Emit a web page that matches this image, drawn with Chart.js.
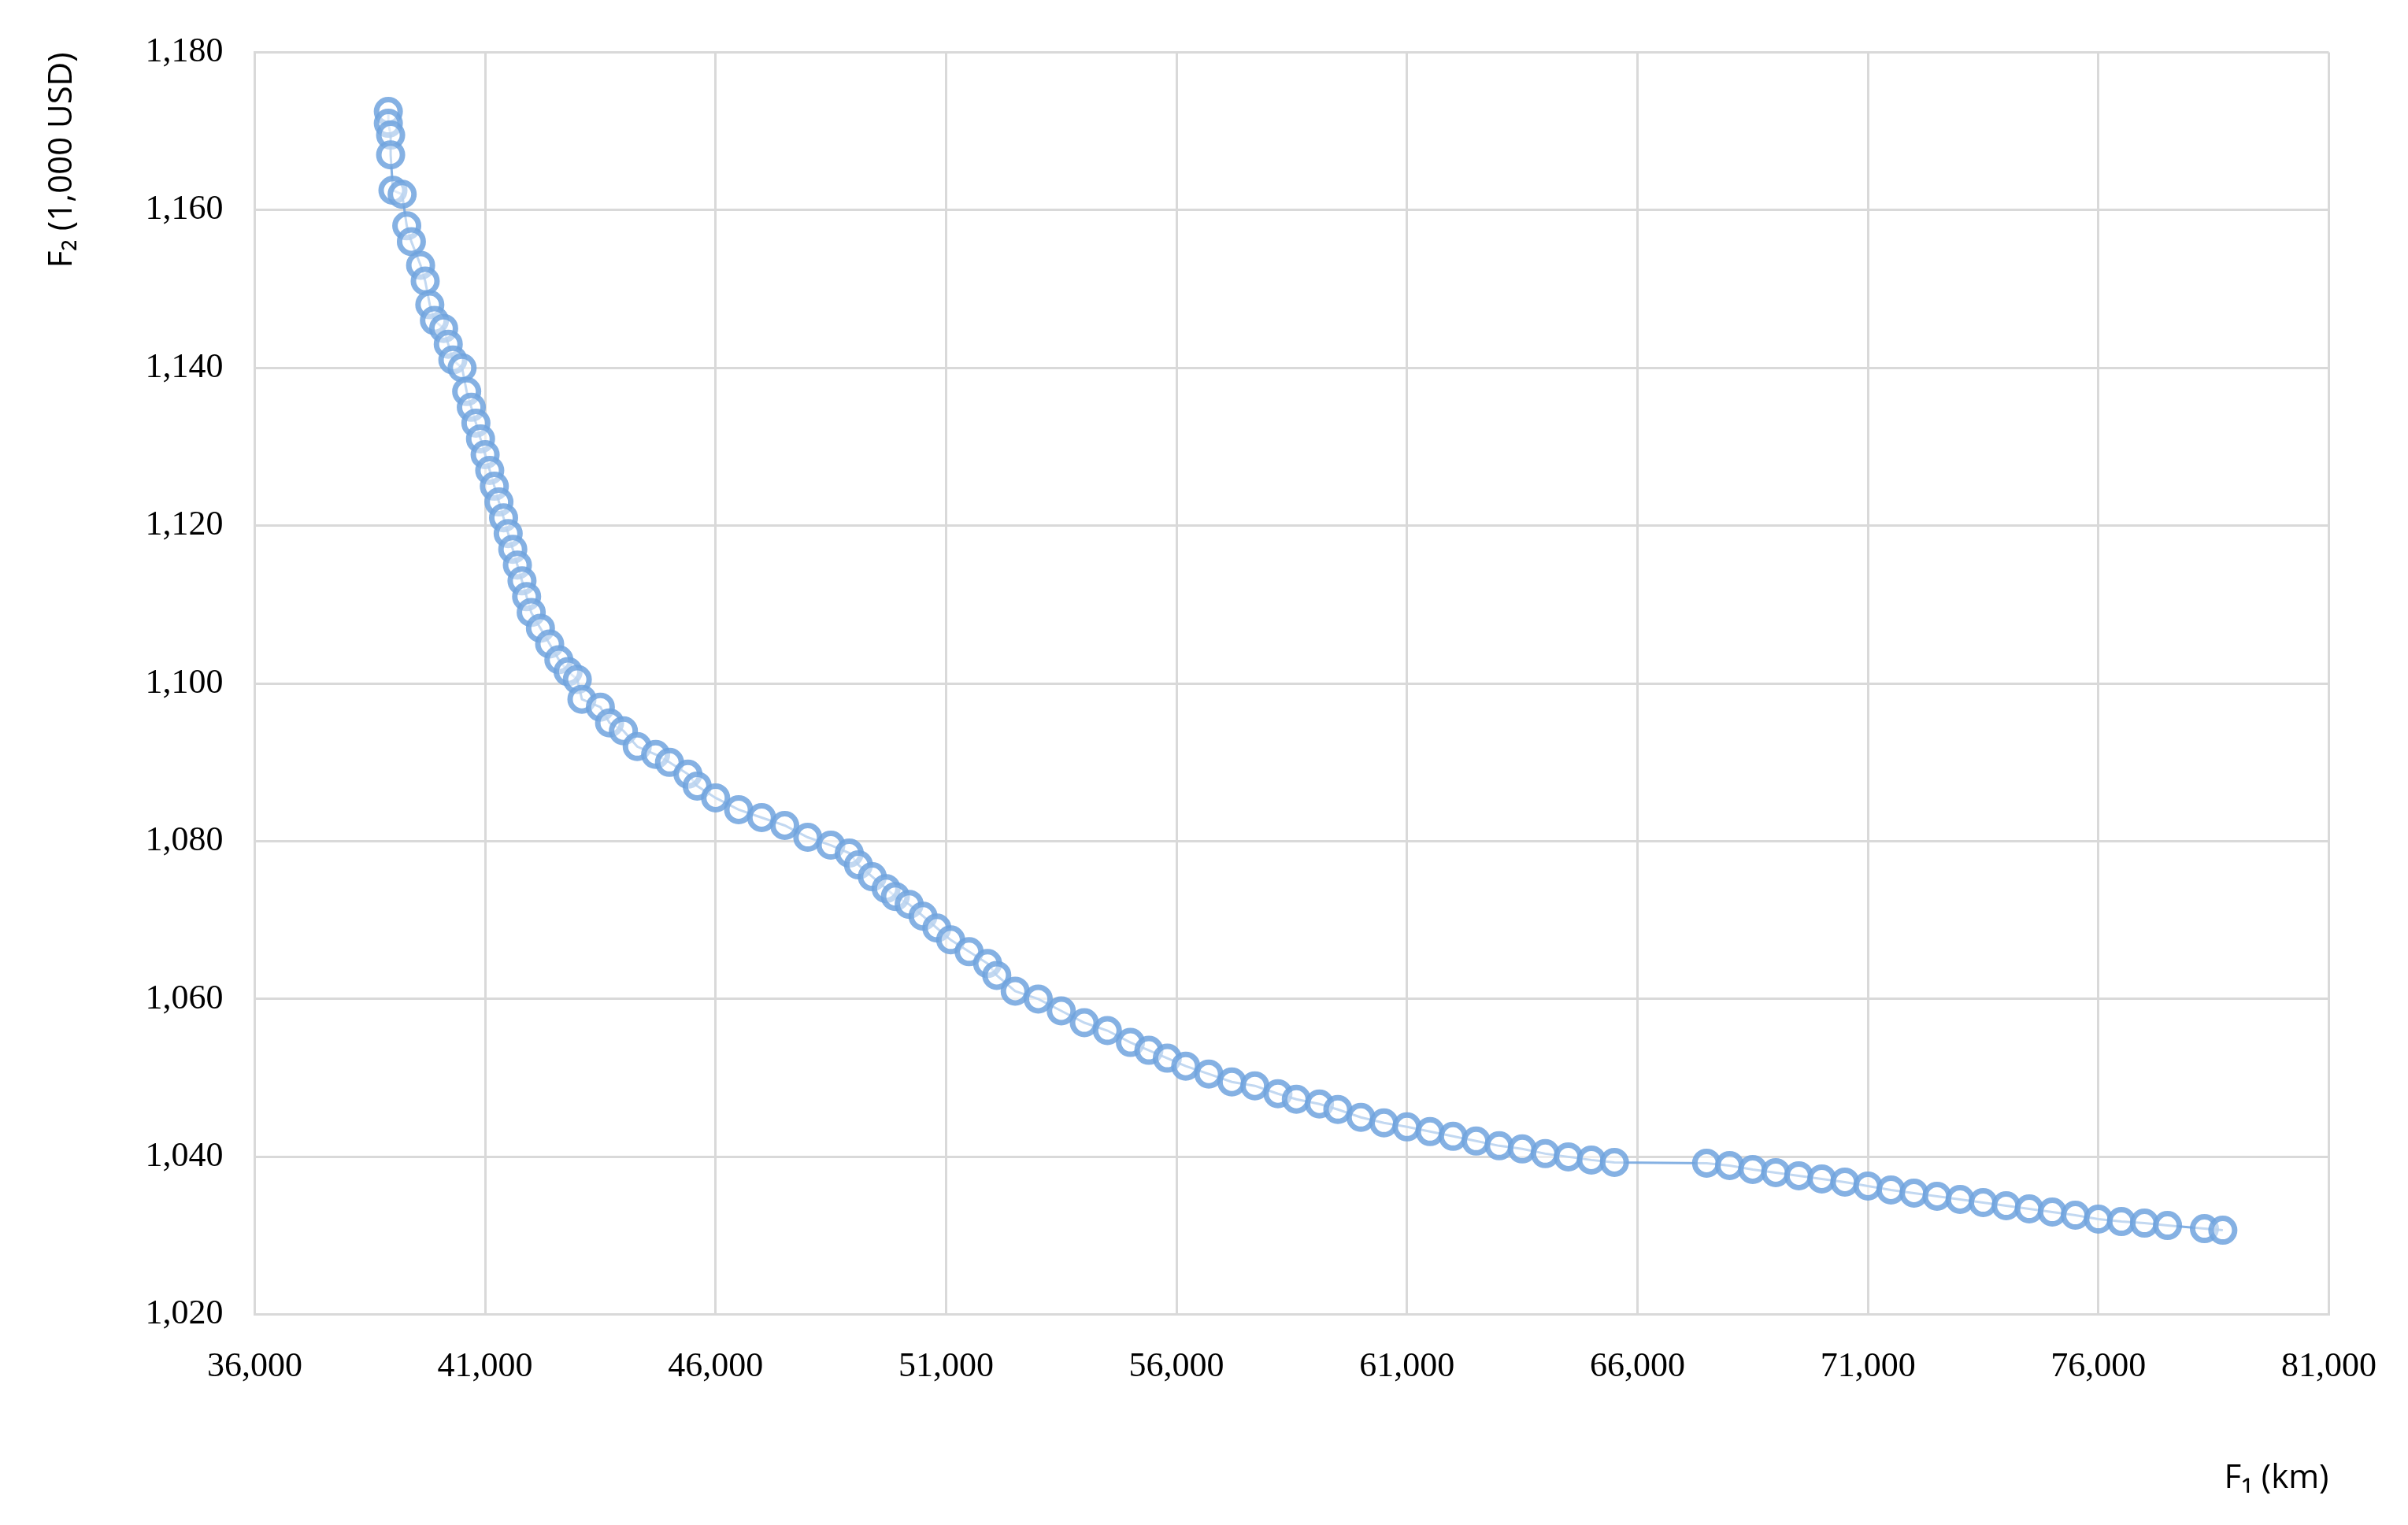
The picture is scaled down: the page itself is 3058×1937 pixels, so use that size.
<!DOCTYPE html>
<html>
<head>
<meta charset="utf-8">
<script src="https://cdn.jsdelivr.net/npm/chart.js@4"></script>
<style>
  html, body { margin: 0; padding: 0; background: #fff; }
  #wrap { width: 3058px; height: 1937px; }
</style>
</head>
<body>
<div id="wrap"><canvas id="c"></canvas></div>
<script>
// F1 (km) y F2 (1,000 USD)
const f1 = [38900, 38900, 38950, 38950, 39000, 39200, 39300, 39400, 39600, 39700, 39800, 39900, 40100, 40200, 40300, 40500, 40600, 40700, 40800, 40900, 41000, 41100, 41200, 41300, 41400, 41500, 41600, 41700, 41800, 41900, 42000, 42200, 42400, 42600, 42800, 43000, 43100, 43500, 43700, 44000, 44300, 44700, 45000, 45400, 45600, 46000, 46500, 47000, 47500, 48000, 48500, 48900, 49100, 49400, 49700, 49900, 50200, 50500, 50800, 51100, 51500, 51900, 52100, 52500, 53000, 53500, 54000, 54500, 55000, 55400, 55800, 56200, 56700, 57200, 57700, 58200, 58600, 59100, 59500, 60000, 60500, 61000, 61500, 62000, 62500, 63000, 63500, 64000, 64500, 65000, 65500, 67500, 68000, 68500, 69000, 69500, 70000, 70500, 71000, 71500, 72000, 72500, 73000, 73500, 74000, 74500, 75000, 75500, 76000, 76500, 77000, 77500, 78300, 78700];
const f2 = [1172.5, 1171, 1169.5, 1167, 1162.5, 1162, 1158, 1156, 1153, 1151, 1148, 1146, 1145, 1143, 1141, 1140, 1137, 1135, 1133, 1131, 1129, 1127, 1125, 1123, 1121, 1119, 1117, 1115, 1113, 1111, 1109, 1107, 1105, 1103, 1101.5, 1100.5, 1098, 1097, 1095, 1094, 1092, 1091, 1090, 1088.5, 1087, 1085.5, 1084, 1083, 1082, 1080.5, 1079.5, 1078.5, 1077, 1075.5, 1074, 1073, 1072, 1070.5, 1069, 1067.5, 1066, 1064.5, 1063, 1061, 1060, 1058.5, 1057, 1056, 1054.5, 1053.5, 1052.5, 1051.5, 1050.5, 1049.5, 1049, 1048, 1047.3, 1046.7, 1046, 1045, 1044.3, 1043.8, 1043.2, 1042.6, 1042, 1041.4, 1041, 1040.4, 1040, 1039.6, 1039.3, 1039.2, 1038.9, 1038.4, 1038, 1037.6, 1037.2, 1036.8, 1036.3, 1035.8, 1035.4, 1035, 1034.6, 1034.2, 1033.8, 1033.4, 1033, 1032.6, 1032.1, 1031.8, 1031.6, 1031.3, 1030.9, 1030.7];

const azul = 'rgba(112, 163, 222, 0.85)';
const gris = '#d9d9d9';
const tickFont = { family: 'Liberation Serif', size: 44 };

new Chart(document.getElementById('c'), {
  type: 'scatter',
  data: {
    datasets: [{
      data: f1.map((x, i) => ({ x: x, y: f2[i] })),
      showLine: true,
      borderColor: azul,
      borderWidth: 3,
      pointRadius: 15,
      pointBorderWidth: 7,
      pointBorderColor: azul,
      pointBackgroundColor: 'rgba(255,255,255,0.5)',
    }],
  },
  options: {
    responsive: true,
    maintainAspectRatio: false,
    animation: false,
    layout: { padding: { top: 64, right: 90, left: 50, bottom: 30 } },
    plugins: { legend: { display: false }, tooltip: { enabled: false } },
    scales: {
      x: {
        min: 36000, max: 81000,
        ticks: { stepSize: 5000, color: '#000', font: tickFont, padding: 40,
          callback: (v) => v.toLocaleString('en-US') },
        grid: { color: gris, lineWidth: 3, drawTicks: false },
        border: { color: gris, width: 3 },
        title: { display: true, text: 'F₁ (km)', align: 'end', color: '#000',
          font: { family: 'Open Sans', size: 42 }, padding: { top: 50 } },
      },
      y: {
        min: 1020, max: 1180,
        ticks: { stepSize: 20, color: '#000', font: tickFont, padding: 40,
          callback: (v) => v.toLocaleString('en-US') },
        grid: { color: gris, lineWidth: 3, drawTicks: false },
        border: { color: gris, width: 3 },
        title: { display: true, text: 'F₂ (1,000 USD)', align: 'end', color: '#000',
          font: { family: 'Open Sans', size: 42 }, padding: { bottom: 40 } },
      },
    },
  },
});
</script>
</body>
</html>
